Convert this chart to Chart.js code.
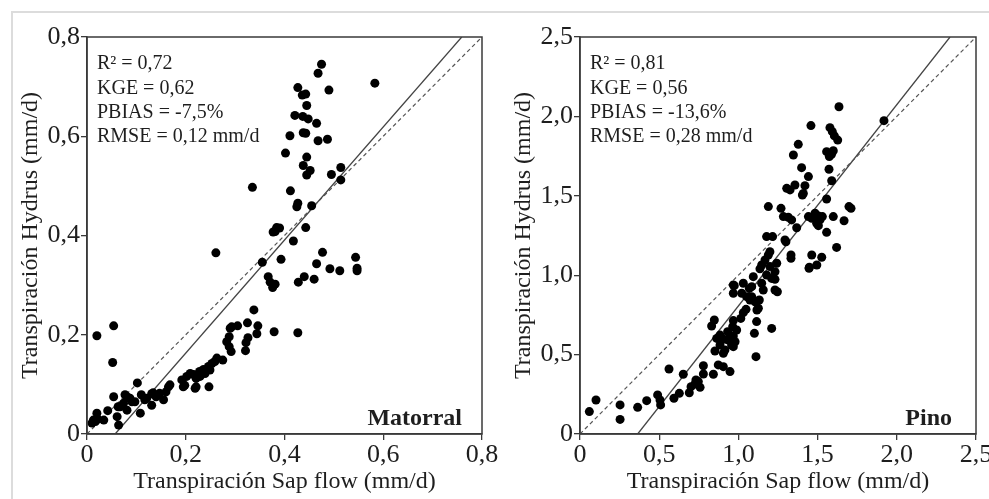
<!DOCTYPE html>
<html>
<head>
<meta charset="utf-8">
<script src="https://cdn.jsdelivr.net/npm/chart.js@4"></script>
<style>
  body { margin: 0; background: #fff; width: 989px; height: 499px; overflow: hidden; position: relative; }
  #frame { position: absolute; left: 11px; top: 11px; width: 1000px; height: 500px;
           border-top: 2px solid #dcdcdc; border-left: 2px solid #dcdcdc; }
  #c1 { position: absolute; left: 0; top: 0; }
  #c2 { position: absolute; left: 495px; top: 0; }
</style>
</head>
<body>
<div id="frame"></div>
<canvas id="c1" width="505" height="499"></canvas>
<canvas id="c2" width="510" height="499"></canvas>
<script>
// Matorral: sap flow (x) vs Hydrus (y), mm/d
const matorralSap = [
  0.475, 0.468, 0.583, 0.427, 0.490, 0.436, 0.443, 0.445, 0.421, 0.437, 0.448, 0.465, 0.411, 0.438, 0.443,
  0.468, 0.487, 0.402, 0.445, 0.438, 0.452, 0.445, 0.495, 0.514, 0.514, 0.335, 0.412, 0.427, 0.425, 0.455,
  0.384, 0.390, 0.381, 0.377, 0.443, 0.418, 0.261, 0.477, 0.393, 0.355, 0.465, 0.544, 0.440, 0.460, 0.492,
  0.512, 0.547, 0.547, 0.428, 0.367, 0.371, 0.381, 0.376,
  0.338, 0.325, 0.346, 0.344, 0.379, 0.427, 0.326, 0.322, 0.321, 0.305, 0.290, 0.293, 0.288, 0.283, 0.288,
  0.292, 0.275, 0.263, 0.253, 0.246, 0.236, 0.228, 0.216, 0.209, 0.221, 0.202, 0.192, 0.195, 0.221, 0.247,
  0.219, 0.198, 0.229, 0.239, 0.249, 0.259,
  0.165, 0.168, 0.160, 0.155, 0.147, 0.140, 0.131, 0.134, 0.121, 0.110, 0.108, 0.102, 0.091, 0.097, 0.087,
  0.081, 0.074, 0.081, 0.067, 0.063, 0.054, 0.077, 0.061, 0.064, 0.042, 0.034, 0.020, 0.017, 0.010, 0.022,
  0.013, 0.131, 0.020, 0.054, 0.052, 0.117
];
const matorralHydrus = [
  0.745, 0.727, 0.707, 0.698, 0.693, 0.683, 0.685, 0.662, 0.642, 0.640, 0.635, 0.626, 0.601, 0.607, 0.606,
  0.591, 0.594, 0.566, 0.558, 0.541, 0.531, 0.522, 0.523, 0.537, 0.512, 0.497, 0.490, 0.465, 0.458, 0.460,
  0.416, 0.415, 0.408, 0.407, 0.416, 0.389, 0.365, 0.366, 0.352, 0.346, 0.343, 0.356, 0.317, 0.312, 0.333,
  0.329, 0.334, 0.329, 0.306, 0.317, 0.306, 0.302, 0.295,
  0.250, 0.224, 0.218, 0.202, 0.206, 0.204, 0.194, 0.184, 0.168, 0.218, 0.213, 0.216, 0.196, 0.186, 0.176,
  0.166, 0.149, 0.153, 0.142, 0.136, 0.130, 0.126, 0.120, 0.122, 0.112, 0.116, 0.109, 0.095, 0.095, 0.095,
  0.092, 0.098, 0.116, 0.122, 0.129, 0.146,
  0.095, 0.099, 0.085, 0.069, 0.082, 0.075, 0.081, 0.083, 0.072, 0.079, 0.042, 0.103, 0.065, 0.065, 0.072,
  0.075, 0.062, 0.048, 0.055, 0.055, 0.075, 0.079, 0.035, 0.018, 0.047, 0.028, 0.042, 0.025, 0.022, 0.030,
  0.028, 0.058, 0.198, 0.218, 0.144, 0.069
];
const matorralFitX = [0.057, 0.759];
const matorralFitY = [0, 0.8];
const matorralOneToOne = [0, 0.8];
const matorralStats = ['R² = 0,72', 'KGE = 0,62', 'PBIAS = -7,5%', 'RMSE = 0,12 mm/d'];

// Pino
const pinoSap = [
  1.635, 1.919, 1.458, 1.578, 1.593, 1.606, 1.627, 1.378, 1.557, 1.599, 1.574, 1.588, 1.347, 1.399, 1.572,
  1.442, 1.589, 1.305, 1.326, 1.357, 1.420, 1.410, 1.404, 1.557, 1.189, 1.269, 1.698, 1.711, 1.284, 1.315,
  1.336, 1.442, 1.463, 1.484, 1.505, 1.515, 1.530, 1.494, 1.505, 1.599, 1.667, 1.368, 1.557, 1.178, 1.216,
  1.294, 1.620, 1.300,
  1.332, 1.332, 1.463, 1.526, 1.446, 1.495, 1.448, 1.199, 1.147, 1.168, 1.199, 1.242, 1.231, 1.210, 1.136,
  1.178, 1.189, 1.231, 1.231, 1.246, 1.094, 1.084, 0.968, 1.031, 1.069, 1.021, 1.052, 1.073, 1.105, 1.126,
  1.157, 1.147, 1.084, 1.132, 1.117, 0.968, 0.974, 1.015, 1.031, 1.048, 1.115, 1.101, 1.111, 1.210, 0.831,
  0.848, 0.852, 0.884, 0.863, 0.905, 0.915, 0.884, 0.905, 0.936, 0.957, 0.968, 0.932, 0.968, 0.964, 0.989,
  0.968, 0.979,
  0.779, 0.779, 0.842, 0.873, 0.905, 0.947, 0.726, 0.747, 0.758, 0.732, 0.690, 0.701, 0.652, 0.593, 0.627,
  0.562, 0.490, 0.505, 0.509, 0.364, 0.421, 0.253, 0.253, 0.059, 0.101
];
const pinoHydrus = [
  2.061, 1.973, 1.942, 1.929, 1.904, 1.877, 1.851, 1.824, 1.778, 1.784, 1.747, 1.761, 1.757, 1.677, 1.667,
  1.621, 1.595, 1.547, 1.537, 1.568, 1.564, 1.515, 1.505, 1.480, 1.432, 1.421, 1.432, 1.421, 1.369, 1.365,
  1.348, 1.369, 1.358, 1.390, 1.373, 1.348, 1.369, 1.327, 1.312, 1.369, 1.343, 1.299, 1.270, 1.243, 1.243,
  1.222, 1.175, 1.211,
  1.127, 1.106, 1.127, 1.113, 1.043, 1.064, 1.050, 1.148, 1.064, 1.096, 1.054, 1.075, 1.022, 0.980, 1.040,
  1.001, 1.127, 0.974, 0.907, 0.896, 0.991, 0.928, 0.938, 0.949, 0.917, 0.886, 0.865, 0.844, 0.833, 0.792,
  0.907, 0.949, 0.864, 0.844, 0.781, 0.886, 0.934, 0.728, 0.764, 0.785, 0.708, 0.634, 0.487, 0.665, 0.680,
  0.718, 0.523, 0.560, 0.602, 0.508, 0.529, 0.623, 0.596, 0.592, 0.560, 0.617, 0.644, 0.714, 0.676, 0.655,
  0.550, 0.581,
  0.430, 0.378, 0.376, 0.435, 0.424, 0.393, 0.315, 0.330, 0.294, 0.340, 0.260, 0.298, 0.376, 0.225, 0.256,
  0.409, 0.246, 0.214, 0.183, 0.168, 0.210, 0.183, 0.092, 0.141, 0.214
];
const pinoFitX = [0.364, 2.336];
const pinoFitY = [0, 2.5];
const pinoOneToOne = [0, 2.5];
const pinoStats = ['R² = 0,81', 'KGE = 0,56', 'PBIAS = -13,6%', 'RMSE = 0,28 mm/d'];

const SERIF = "'Liberation Serif', 'Times New Roman', serif";
const INK = '#1e1e1e';

function pairs(xs, ys) {
  return xs.map((x, i) => ({ x: x, y: ys[i] }));
}

// box round the plot plus the stats text and site name
const panelDeco = {
  id: 'panelDeco',
  afterDraw(chart, args, opts) {
    const { ctx, chartArea: a } = chart;
    ctx.save();
    ctx.strokeStyle = '#3a3a3a';
    ctx.lineWidth = 1.5;
    ctx.strokeRect(a.left, a.top, a.right - a.left, a.bottom - a.top);
    ctx.fillStyle = INK;
    ctx.textBaseline = 'middle';
    ctx.textAlign = 'left';
    ctx.font = '20px ' + SERIF;
    opts.lines.forEach((t, i) => {
      ctx.fillText(t, a.left + opts.textX, a.top + 27 + i * 24.3);
    });
    ctx.font = 'bold 24px ' + SERIF;
    ctx.textAlign = 'right';
    ctx.fillText(opts.site, a.right - opts.siteRight, a.bottom - 15);
    ctx.restore();
  }
};

function axisScales(max, step, yWidth, yTitlePad) {
  const fmt = v => v === 0 ? '0' : v.toFixed(1).replace('.', ',');
  const tickFont = { family: SERIF, size: 26 };
  const titleFont = { family: SERIF, size: 24 };
  return {
    x: {
      type: 'linear', min: 0, max: max,
      ticks: { stepSize: step, callback: fmt, font: tickFont, color: INK, padding: 0, maxRotation: 0, autoSkip: false },
      grid: { drawOnChartArea: false, tickLength: 6, color: '#3a3a3a', lineWidth: 1.3 },
      border: { color: '#3a3a3a', width: 1.5 },
      title: { display: true, text: 'Transpiración Sap flow (mm/d)', font: titleFont, color: INK, padding: { top: 0, bottom: 3 } },
      afterFit: s => { s.height = 65; }
    },
    y: {
      type: 'linear', min: 0, max: max,
      ticks: { stepSize: step, callback: fmt, font: tickFont, color: INK, padding: 1, autoSkip: false },
      grid: { drawOnChartArea: false, tickLength: 6, color: '#3a3a3a', lineWidth: 1.3 },
      border: { color: '#3a3a3a', width: 1.5 },
      title: { display: true, text: 'Transpiración Hydrus (mm/d)', font: titleFont, color: INK, padding: { top: yTitlePad, bottom: 0 } },
      afterFit: s => { s.width = yWidth; }
    }
  };
}

function makePanel(canvas, sap, hydrus, fitX, fitY, oneToOne, max, step, stats, site, siteRight, yWidth, rightPad, yTitlePad, textX) {
  new Chart(canvas, {
    type: 'scatter',
    data: {
      datasets: [
        {
          data: pairs(sap, hydrus),
          backgroundColor: '#000', borderColor: '#000',
          pointRadius: 4.5, pointHoverRadius: 4.5, borderWidth: 0
        },
        {
          type: 'line', data: pairs(oneToOne, oneToOne),
          borderColor: '#555', borderWidth: 1.2, borderDash: [4, 3], pointRadius: 0, fill: false
        },
        {
          type: 'line', data: pairs(fitX, fitY),
          borderColor: '#444', borderWidth: 1.3, pointRadius: 0, fill: false
        }
      ]
    },
    options: {
      responsive: false,
      animation: false,
      devicePixelRatio: 1,
      layout: { padding: { left: 0, top: 37, right: rightPad, bottom: 0 } },
      scales: axisScales(max, step, yWidth, yTitlePad),
      plugins: {
        legend: { display: false },
        tooltip: { enabled: false },
        panelDeco: { lines: stats, site: site, siteRight: siteRight, textX: textX }
      }
    },
    plugins: [panelDeco]
  });
}

makePanel(document.getElementById('c1'), matorralSap, matorralHydrus, matorralFitX, matorralFitY, matorralOneToOne,
  0.8, 0.2, matorralStats, 'Matorral', 20, 87, 23, 16, 10);
makePanel(document.getElementById('c2'), pinoSap, pinoHydrus, pinoFitX, pinoFitY, pinoOneToOne,
  2.5, 0.5, pinoStats, 'Pino', 24, 85, 29, 14, 10);
</script>
</body>
</html>
